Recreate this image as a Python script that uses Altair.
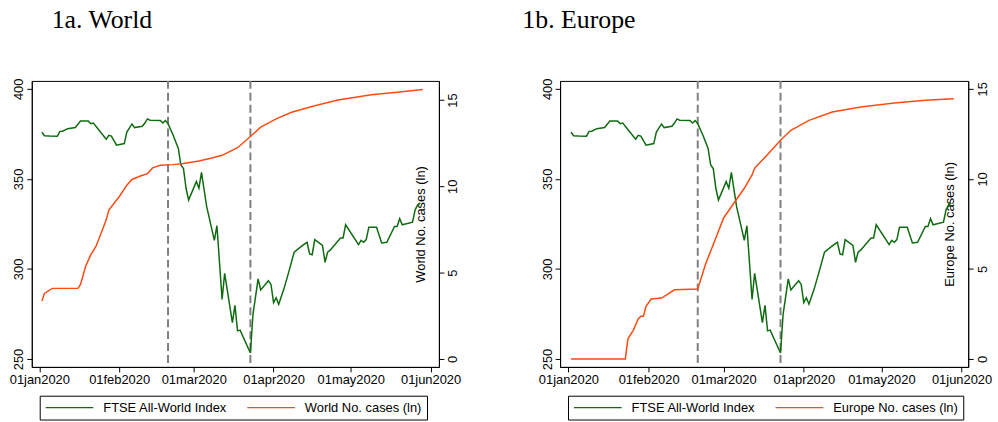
import altair as alt
import pandas as pd

GREEN = "#0f6b0f"
ORANGE = "#ff4a12"
FONT = "Liberation Sans"

ftse_dates = [
    "2020-01-02", "2020-01-03", "2020-01-05", "2020-01-08", "2020-01-09", "2020-01-10",
    "2020-01-12", "2020-01-15", "2020-01-17", "2020-01-20", "2020-01-21", "2020-01-22",
    "2020-01-27", "2020-01-28", "2020-01-29", "2020-01-31",
    "2020-02-03", "2020-02-04", "2020-02-06", "2020-02-07", "2020-02-10", "2020-02-11",
    "2020-02-12", "2020-02-13", "2020-02-17", "2020-02-18", "2020-02-19", "2020-02-20",
    "2020-02-22", "2020-02-24", "2020-02-25", "2020-02-26", "2020-02-27", "2020-02-28",
    "2020-03-02", "2020-03-03", "2020-03-04", "2020-03-06", "2020-03-09", "2020-03-10",
    "2020-03-12", "2020-03-13", "2020-03-16", "2020-03-17", "2020-03-18", "2020-03-19",
    "2020-03-23", "2020-03-24", "2020-03-26", "2020-03-27", "2020-03-30", "2020-03-31",
    "2020-04-01", "2020-04-02", "2020-04-03", "2020-04-05", "2020-04-07", "2020-04-09",
    "2020-04-12", "2020-04-14", "2020-04-15", "2020-04-16", "2020-04-17", "2020-04-20",
    "2020-04-21", "2020-04-22", "2020-04-23", "2020-04-27", "2020-04-28", "2020-04-29",
    "2020-05-04", "2020-05-05", "2020-05-06", "2020-05-07", "2020-05-08", "2020-05-11",
    "2020-05-13", "2020-05-15", "2020-05-18", "2020-05-19", "2020-05-20", "2020-05-21",
    "2020-05-25", "2020-05-26", "2020-05-27", "2020-05-28",
]
ftse_values = [
    375.9, 374.0, 373.8, 373.7, 376.4, 376.5, 377.9, 378.5, 382.1, 382.1, 380.7, 381.0,
    372.0, 374.2, 373.8, 368.7,
    369.6, 376.0, 380.5, 378.5, 379.2, 381.0, 383.3, 382.6, 382.4, 381.0, 382.4, 380.7,
    374.2, 366.9, 357.7, 355.8, 344.8, 338.3,
    348.5, 344.8, 353.6, 334.7, 315.9, 324.0, 283.1, 297.5, 270.2, 279.8, 265.6, 266.0,
    253.3, 274.8, 294.5, 288.3, 293.4, 291.4,
    281.3, 284.0, 280.4, 288.8, 298.8, 309.3, 312.8, 314.8, 308.3, 307.9, 316.3, 313.1,
    303.7, 309.3, 310.4, 317.2, 317.2, 324.5,
    313.5, 315.9, 314.8, 316.3, 323.1, 323.1, 314.4, 314.8, 323.6, 323.6, 327.9, 324.5,
    326.0, 332.8, 335.6, 336.7,
]

world_dates = [
    "2020-01-02", "2020-01-03", "2020-01-06", "2020-01-16", "2020-01-17", "2020-01-19",
    "2020-01-21", "2020-01-23", "2020-01-25", "2020-01-27", "2020-01-28", "2020-01-29",
    "2020-02-01", "2020-02-04", "2020-02-06", "2020-02-09", "2020-02-12", "2020-02-14",
    "2020-02-17", "2020-02-22", "2020-02-26", "2020-03-03", "2020-03-08", "2020-03-12",
    "2020-03-18", "2020-03-23", "2020-03-27", "2020-04-02", "2020-04-08", "2020-04-17",
    "2020-04-26", "2020-05-09", "2020-05-19", "2020-05-29",
]
world_cases = [
    3.36, 3.80, 4.09, 4.09, 4.32, 5.37,
    6.04, 6.52, 7.29, 8.06, 8.63, 8.82,
    9.40, 10.07, 10.40, 10.59, 10.74, 11.07,
    11.22, 11.26, 11.32, 11.47, 11.64, 11.80,
    12.24, 12.89, 13.43, 13.91, 14.29, 14.67,
    15.00, 15.31, 15.46, 15.61,
]

europe_dates = [
    "2020-01-02", "2020-01-23", "2020-01-24", "2020-01-26", "2020-01-28", "2020-01-29",
    "2020-01-30", "2020-01-31", "2020-02-02", "2020-02-06", "2020-02-11", "2020-02-20",
    "2020-02-23", "2020-02-26", "2020-03-01", "2020-03-05", "2020-03-09", "2020-03-12",
    "2020-03-13", "2020-03-18", "2020-03-23", "2020-03-27", "2020-04-03", "2020-04-12",
    "2020-04-23", "2020-05-06", "2020-05-18", "2020-05-29",
]
europe_cases = [
    0.0, 0.0, 1.12, 1.58, 2.22, 2.37,
    2.37, 2.92, 3.33, 3.38, 3.84, 3.88,
    5.26, 6.36, 7.83, 8.66, 9.48, 10.22,
    10.59, 11.36, 12.15, 12.70, 13.25, 13.71,
    13.99, 14.21, 14.37, 14.45,
]

event_dates = ["2020-02-20", "2020-03-23"]
month_ticks = [1, 2, 3, 4, 5, 6]
left_ticks = [250, 300, 350, 400]
right_ticks = [0, 5, 10, 15]
ftse_label = "FTSE All-World Index"


def panel(case_dates, case_values, case_label, title, title_dx, width, xdom, rdom):
    ftse_df = pd.DataFrame({"date": ftse_dates, "value": ftse_values, "series": ftse_label})
    case_df = pd.DataFrame({"date": case_dates, "value": case_values, "series": case_label})
    ev_df = pd.DataFrame({"date": event_dates})

    xenc = alt.X(
        "date:T",
        scale=alt.Scale(type="utc", domain=xdom, nice=False),
        axis=alt.Axis(
            values=[alt.DateTime(year=2020, month=m, date=1, utc=True) for m in month_ticks],
            labelExpr="lower(utcFormat(datum.value, '%d%b%Y'))",
            tickSize=5, labelPadding=2, title=None, grid=False,
            labelFontSize=13, labelFont=FONT, labelColor="black",
            domainColor="black", tickColor="black", labelOverlap=False,
            labelFlush=False,
        ),
    )
    color = alt.Color(
        "series:N",
        scale=alt.Scale(domain=[ftse_label, case_label], range=[GREEN, ORANGE]),
        legend=alt.Legend(
            title=None, orient="none", legendX=8, legendY=317, direction="horizontal",
            strokeColor="black", padding=5, symbolType="M-1,0L7,0", symbolSize=144,
            symbolStrokeWidth=1.5, symbolFillColor="transparent",
            labelFontSize=13, labelFont=FONT, labelColor="black",
            columnPadding=17, labelOffset=45,
        ),
    )
    rules = alt.Chart(ev_df).mark_rule(
        color="#7f7f7f", strokeDash=[8, 4], strokeWidth=2
    ).encode(x=xenc)
    left = alt.Chart(ftse_df).mark_line(strokeWidth=1.5).encode(
        x=xenc,
        y=alt.Y(
            "value:Q",
            scale=alt.Scale(domain=[245.59, 404.41], nice=False, zero=False),
            axis=alt.Axis(
                orient="left", values=left_ticks, labelAngle=270, tickSize=5,
                labelPadding=1, title=None, grid=False, labelFontSize=13,
                labelFont=FONT, labelColor="black", domainColor="black",
                tickColor="black",
            ),
        ),
        color=color,
    )
    right = alt.Chart(case_df).mark_line(strokeWidth=1.5).encode(
        x=xenc,
        y=alt.Y(
            "value:Q",
            scale=alt.Scale(domain=rdom, nice=False, zero=False),
            axis=alt.Axis(
                orient="right", values=right_ticks, labelAngle=270, tickSize=5,
                labelPadding=3, title=case_label, titleAngle=270, titleX=-19,
                titleY=144, titleAlign="center", titleBaseline="middle",
                titleFontSize=13, titleFont=FONT, titleFontWeight="normal",
                titleColor="black", grid=False, labelFontSize=13, labelFont=FONT,
                labelColor="black", domainColor="black", tickColor="black",
            ),
        ),
        color=color,
    )
    return alt.layer(rules, left, right).resolve_scale(y="independent").properties(
        width=width,
        height=288,
        title=alt.TitleParams(
            title, anchor="start", frame="group", dx=title_dx, offset=24,
            baseline="alphabetic", fontSize=26, font="Liberation Serif",
            fontWeight="normal", color="black",
        ),
    )


p1 = panel(
    world_dates, world_cases, "World No. cases (ln)", "1a. World", 20, 410,
    [alt.DateTime(year=2019, month=12, date=29, hours=1, minutes=40, utc=True),
     alt.DateTime(year=2020, month=6, date=4, hours=5, minutes=45, utc=True)],
    [-0.46, 16.11],
)
p2 = panel(
    europe_dates, europe_cases, "Europe No. cases (ln)", "1b. Europe", -38, 411,
    [alt.DateTime(year=2019, month=12, date=28, hours=18, minutes=30, utc=True),
     alt.DateTime(year=2020, month=6, date=3, hours=13, minutes=40, utc=True)],
    [-0.44, 15.44],
)

chart = alt.hconcat(p1, p2, spacing=60).resolve_scale(color="independent").properties(
    padding={"left": 8, "top": 5, "right": 5, "bottom": 1},
    background="white",
).configure_view(stroke="black", strokeWidth=1)

chart.save("out.html", embed_options={"renderer": "svg", "actions": False})
